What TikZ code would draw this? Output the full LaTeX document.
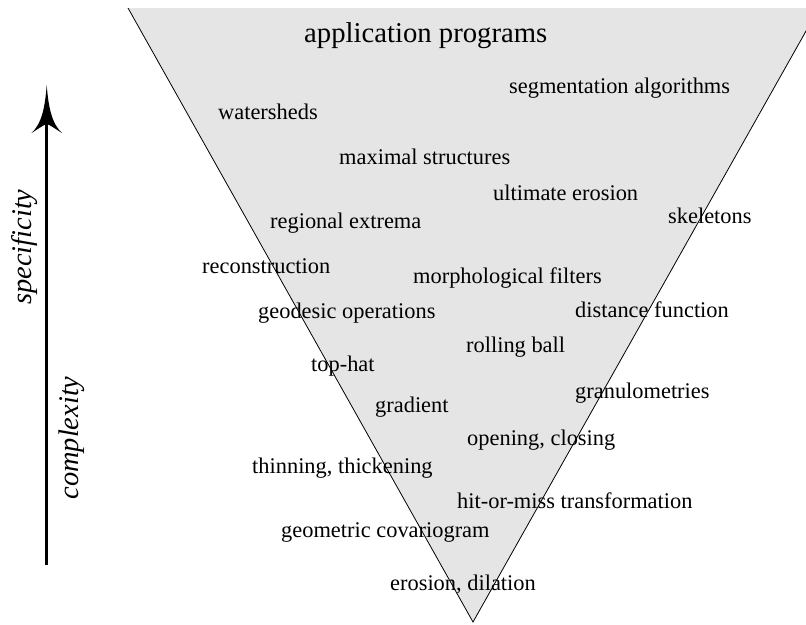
\documentclass[tikz,border=0pt]{standalone}
\usepackage{fontspec}
\setmainfont{Liberation Serif}
\definecolor{trifill}{HTML}{E5E5E5}
\begin{document}
\begin{tikzpicture}[x=1pt,y=-1pt,
  lbl/.style={inner sep=0pt,anchor=base west,font=\fontsize{22.4}{26}\selectfont},
  biglbl/.style={inner sep=0pt,anchor=base west,font=\fontsize{28.7}{32}\selectfont},
  axislbl/.style={inner sep=0pt,anchor=base,rotate=90,font=\fontsize{28.4}{32}\selectfont\itshape},
  edge/.style={draw=black,line width=0.8pt}]
\useasboundingbox (0,0) rectangle (806,624);
% triangle
\coordinate (TL) at (128,8);
\coordinate (TR) at (819,8);
\coordinate (B) at (473,622);
\fill[trifill] (TL) -- (TR) -- (B) -- cycle;
\draw[edge] (TL) -- (B) -- (TR);
% axis arrow
\coordinate (arrowtail) at (46.7,565);
\coordinate (arrowneck) at (46.7,124);
\coordinate (arrowtip) at (46.7,85);
\coordinate (barbL) at (31.5,133);
\coordinate (barbR) at (62,133);
\draw[line width=2.7pt] (arrowtail) -- (arrowneck);
\fill (arrowtip) .. controls (48.5,108) and (52,124) .. (barbR)
  .. controls (54,128) and (50,125) .. (arrowneck)
  .. controls (43.5,125) and (39.5,128) .. (barbL)
  .. controls (41.5,124) and (45,108) .. (arrowtip) -- cycle;
\node[axislbl] (spec) at (31,247) {specificity};
\node[axislbl] (compl) at (78,438) {complexity};
% labels
\node[biglbl] (app) at (304,42) {application programs};
\node[lbl] (seg) at (509,93) {segmentation algorithms};
\node[lbl] (water) at (218,119) {watersheds};
\node[lbl] (maxs) at (339,164) {maximal structures};
\node[lbl] (ult) at (493,200) {ultimate erosion};
\node[lbl] (regx) at (270,228) {regional extrema};
\node[lbl] (skel) at (668,223) {skeletons};
\node[lbl] (recon) at (202,273) {reconstruction};
\node[lbl] (morph) at (413,283) {morphological filters};
\node[lbl] (geod) at (258,318) {geodesic operations};
\node[lbl] (dist) at (575,317) {distance function};
\node[lbl] (roll) at (466,352) {rolling ball};
\node[lbl] (toph) at (311,371) {top-hat};
\node[lbl] (gran) at (575,398) {granulometries};
\node[lbl] (grad) at (375,412) {gradient};
\node[lbl] (openc) at (467,445) {opening, closing};
\node[lbl] (thin) at (252,473) {thinning, thickening};
\node[lbl] (hitm) at (457,508) {hit-or-miss transformation};
\node[lbl] (geoc) at (281,537) {geometric covariogram};
\node[lbl] (erod) at (390,590) {erosion, dilation};
\end{tikzpicture}
\end{document}
